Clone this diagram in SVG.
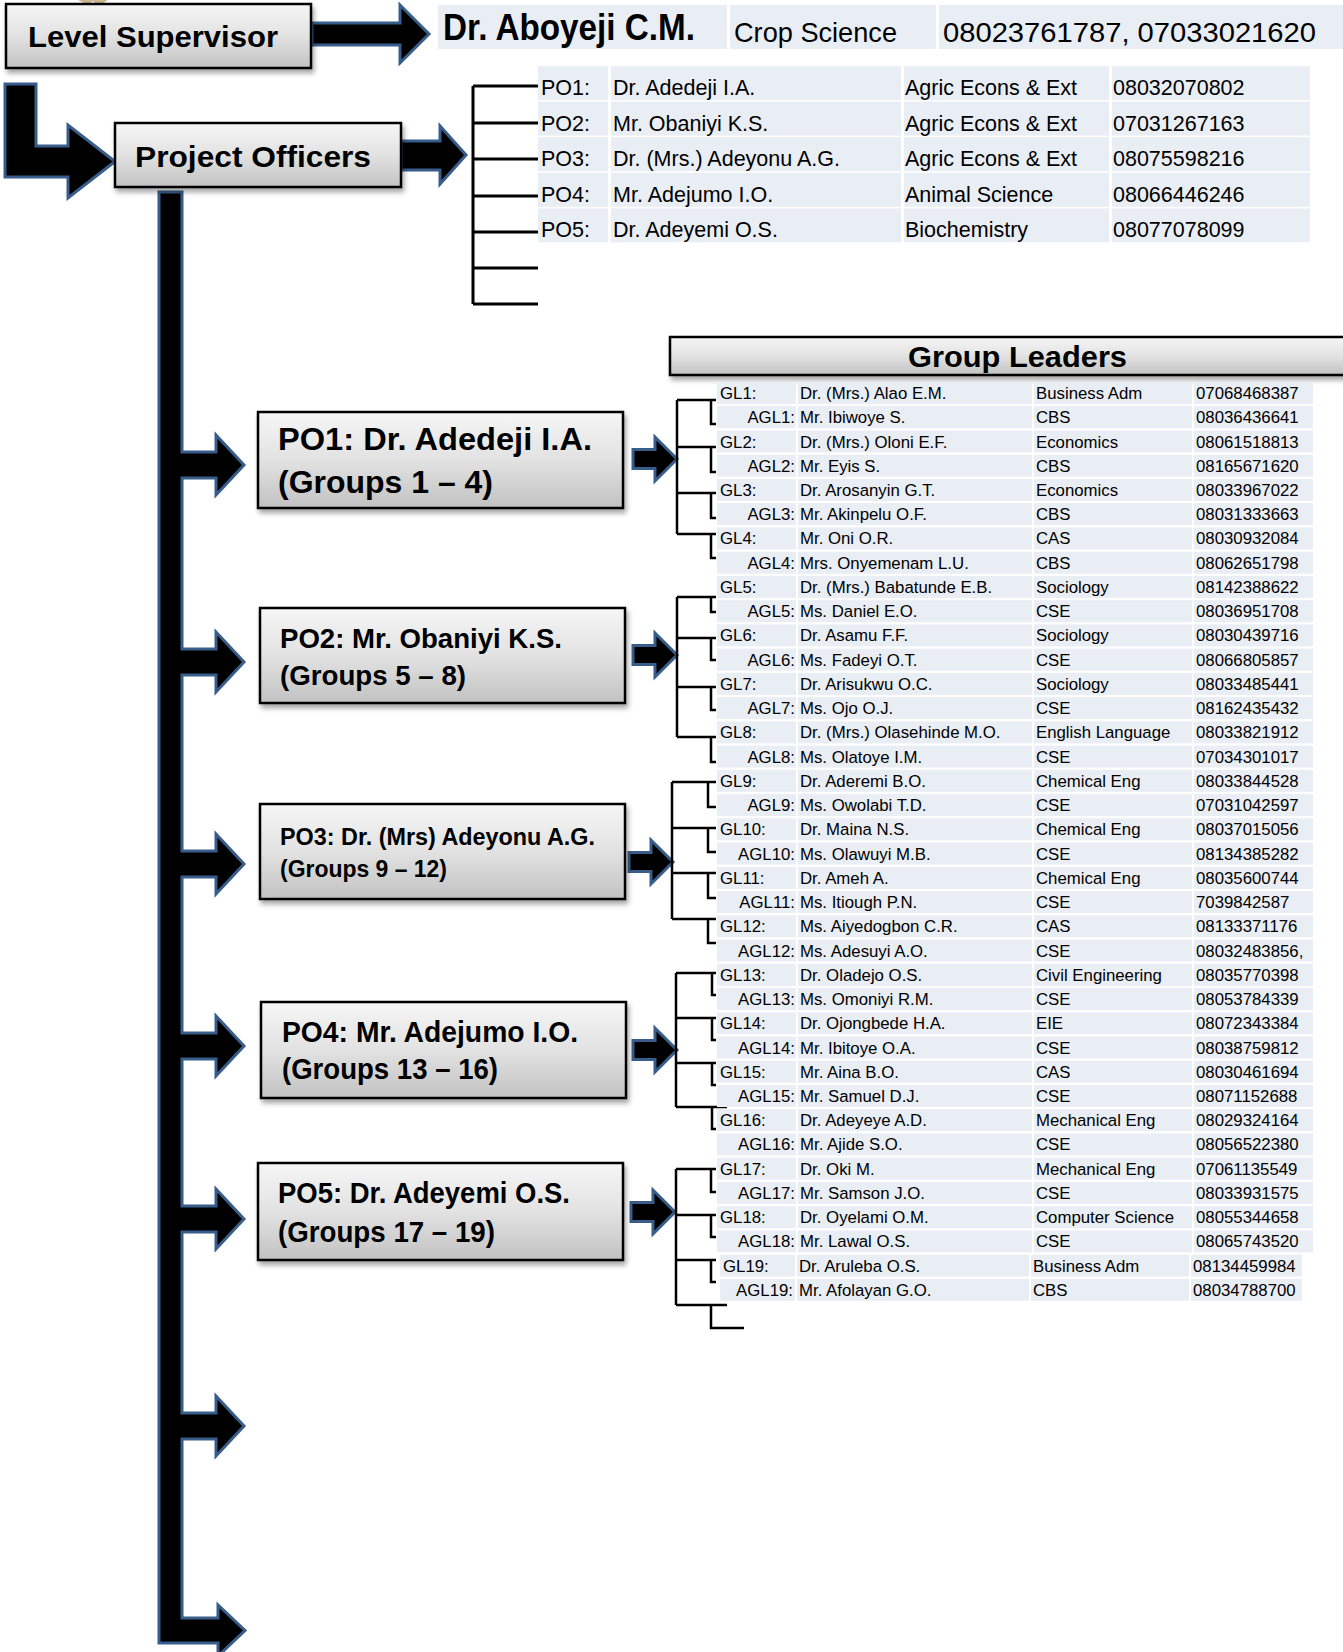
<svg xmlns="http://www.w3.org/2000/svg" xmlns:xlink="http://www.w3.org/1999/xlink" width="1343" height="1652" viewBox="0 0 1343 1652">
<style>
.box{fill:url(#gr);stroke:#000;stroke-width:2.5;filter:url(#sh)}
.arr{fill:#000;stroke:#385d8a;stroke-width:3;stroke-linejoin:miter}
.br{fill:none;stroke:#000;stroke-width:2.5}
.brt{fill:none;stroke:#000;stroke-width:3}
.c{fill:#e9edf4}
text{font-family:"Liberation Sans",Arial,sans-serif;fill:#000}
.b{font-weight:bold}
.t{font-size:21.5px}
.s{font-size:16.8px}
.e{text-anchor:end}
</style>
<defs>
<linearGradient id="gr" x1="0" y1="0" x2="0" y2="1">
<stop offset="0" stop-color="#f6f6f6"/>
<stop offset="0.5" stop-color="#e2e2e2"/>
<stop offset="1" stop-color="#c2c2c2"/>
</linearGradient>
<filter id="sh" x="-10%" y="-10%" width="130%" height="140%">
<feDropShadow dx="2" dy="4" stdDeviation="2.5" flood-color="#000" flood-opacity="0.35"/>
</filter>
<g id="rbg">
<rect class="c" x="717" y="0" width="79" height="22"/>
<rect class="c" x="798" y="0" width="234" height="22"/>
<rect class="c" x="1034" y="0" width="158" height="22"/>
<rect class="c" x="1194" y="0" width="119" height="22"/>
</g>
<g id="rbg2">
<rect class="c" x="720" y="0" width="75" height="22"/>
<rect class="c" x="797" y="0" width="232" height="22"/>
<rect class="c" x="1031" y="0" width="158" height="22"/>
<rect class="c" x="1191" y="0" width="111" height="22"/>
</g>
<g id="pbg">
<rect class="c" x="538" y="0" width="70" height="34"/>
<rect class="c" x="611" y="0" width="290" height="34"/>
<rect class="c" x="904" y="0" width="205" height="34"/>
<rect class="c" x="1112" y="0" width="198" height="34"/>
</g>
</defs>

<rect width="1343" height="1652" fill="#fff"/>
<path d="M78,0 L88,5 L93,1 L99,8 L103,3 L108,0 Z" fill="#cbb68f"/>

<g id="connectors">
<path class="arr" d="M312,23 H400 V5 L429,34 L400,63 V45 H312 Z"/>
<path class="arr" d="M5,84 H36 V146 H68 V125 L115,161.5 L68,198 V177 H5 Z"/>
<path class="arr" d="M401,141 H440 V126 L466,155 L440,184 V170 H401 Z"/>
<path class="arr" d="M159,192 H182 V452 H216 V435 L244,465 L216,495 V478 H182 V649 H216 V632 L244,662 L216,692 V675 H182 V851 H216 V834 L244,864 L216,894 V877 H182 V1033 H216 V1016 L244,1046 L216,1076 V1059 H182 V1206 H216 V1189 L244,1219 L216,1249 V1232 H182 V1413 H216 V1396 L244,1426 L216,1456 V1439 H182 V1618 H218 V1605 L245,1630.5 L218,1656 V1643 H159 Z"/>
<path class="arr" d="M633,449.5 H655 V437 L677,459 L655,481 V468.5 H633 Z"/>
<path class="arr" d="M633,645.5 H655 V633 L677,655 L655,677 V664.5 H633 Z"/>
<path class="arr" d="M629,852.5 H651 V840 L673,862 L651,884 V871.5 H629 Z"/>
<path class="arr" d="M633,1040.5 H655 V1028 L677,1050 L655,1072 V1059.5 H633 Z"/>
<path class="arr" d="M631,1202.5 H653 V1190 L675,1212 L653,1234 V1221.5 H631 Z"/>
<path class="brt" d="M473,86 V304 M473,86 H538 M473,123 H538 M473,159 H538 M473,196 H538 M473,232 H538 M473,268 H538 M473,304 H538"/>
<path class="br" d="M677,400 V534 M677,400 H716 M677,447 H716 M677,493 H716 M677,534 H716 M711,400 V424 H716 M711,447 V472 H716 M711,493 V518 H716 M711,534 V558 H716"/>
<path class="br" d="M677,597 V737 M677,597 H716 M677,638 H716 M677,687 H716 M677,737 H716 M711,597 V612 H716 M711,638 V660 H716 M711,687 V710 H716 M711,737 V762 H716"/>
<path class="br" d="M672,782 V919 M672,782 H716 M672,828 H716 M672,873 H716 M672,919 H716 M708,782 V807 H716 M708,828 V852 H716 M708,873 V898 H716 M708,919 V943 H716"/>
<path class="br" d="M676,973 V1107 M676,973 H716 M676,1018 H716 M676,1063 H716 M676,1107 H727 M712,973 V995 H716 M712,1018 V1040 H716 M712,1063 V1085 H716 M712,1107 V1129 H716"/>
<path class="br" d="M676,1169 V1305 M676,1169 H716 M676,1215 H716 M676,1260 H716 M676,1305 H727 M711,1169 V1192 H716 M711,1215 V1237 H716 M711,1260 V1282 H716 M711,1305 V1328 H744"/>
</g>

<g id="level-supervisor">
<rect class="box" x="6" y="4" width="305" height="64"/>
<text class="b" x="28" y="47" font-size="30" textLength="250" lengthAdjust="spacingAndGlyphs">Level Supervisor</text>
</g>

<g id="supervisor-row">
<rect class="c" x="438" y="5" width="289" height="44"/>
<rect class="c" x="730" y="5" width="206" height="44"/>
<rect class="c" x="939" y="5" width="404" height="44"/>
<text class="b" x="443" y="40" font-size="36" textLength="252" lengthAdjust="spacingAndGlyphs">Dr. Aboyeji C.M.</text>
<text x="734" y="42" font-size="28" textLength="163" lengthAdjust="spacingAndGlyphs">Crop Science</text>
<text x="943" y="42" font-size="28" textLength="373" lengthAdjust="spacingAndGlyphs">08023761787, 07033021620</text>
</g>

<g id="project-officers">
<rect class="box" x="115" y="123" width="286" height="64"/>
<text class="b" x="135" y="167" font-size="30" textLength="236" lengthAdjust="spacingAndGlyphs">Project Officers</text>
</g>

<g id="po-table" class="t">
<g transform="translate(0,66)"><use href="#pbg"/><text x="541" y="29">PO1:</text><text x="613" y="29">Dr. Adedeji I.A.</text><text x="905" y="29">Agric Econs &amp; Ext</text><text x="1113" y="29">08032070802</text></g>
<g transform="translate(0,101.6)"><use href="#pbg"/><text x="541" y="29">PO2:</text><text x="613" y="29">Mr. Obaniyi K.S.</text><text x="905" y="29">Agric Econs &amp; Ext</text><text x="1113" y="29">07031267163</text></g>
<g transform="translate(0,137.2)"><use href="#pbg"/><text x="541" y="29">PO3:</text><text x="613" y="29">Dr. (Mrs.) Adeyonu A.G.</text><text x="905" y="29">Agric Econs &amp; Ext</text><text x="1113" y="29">08075598216</text></g>
<g transform="translate(0,172.8)"><use href="#pbg"/><text x="541" y="29">PO4:</text><text x="613" y="29">Mr. Adejumo I.O.</text><text x="905" y="29">Animal Science</text><text x="1113" y="29">08066446246</text></g>
<g transform="translate(0,208.4)"><use href="#pbg"/><text x="541" y="29">PO5:</text><text x="613" y="29">Dr. Adeyemi O.S.</text><text x="905" y="29">Biochemistry</text><text x="1113" y="29">08077078099</text></g>
</g>

<g id="po1">
<rect class="box" x="258" y="412" width="365" height="96"/>
<text class="b" x="278" y="450" font-size="32" textLength="314" lengthAdjust="spacingAndGlyphs">PO1: Dr. Adedeji I.A.</text>
<text class="b" x="278" y="493" font-size="32" textLength="215" lengthAdjust="spacingAndGlyphs">(Groups 1 – 4)</text>
</g>
<g id="po2">
<rect class="box" x="260" y="608" width="365" height="95"/>
<text class="b" x="280" y="648" font-size="28" textLength="282" lengthAdjust="spacingAndGlyphs">PO2: Mr. Obaniyi K.S.</text>
<text class="b" x="280" y="685" font-size="28" textLength="186" lengthAdjust="spacingAndGlyphs">(Groups 5 – 8)</text>
</g>
<g id="po3">
<rect class="box" x="260" y="804" width="365" height="95"/>
<text class="b" x="280" y="845" font-size="23.5" textLength="315" lengthAdjust="spacingAndGlyphs">PO3: Dr. (Mrs) Adeyonu A.G.</text>
<text class="b" x="280" y="877" font-size="23.5" textLength="167" lengthAdjust="spacingAndGlyphs">(Groups 9 – 12)</text>
</g>
<g id="po4">
<rect class="box" x="261" y="1002" width="365" height="96"/>
<text class="b" x="282" y="1042" font-size="29" textLength="296" lengthAdjust="spacingAndGlyphs">PO4: Mr. Adejumo I.O.</text>
<text class="b" x="282" y="1079" font-size="29" textLength="216" lengthAdjust="spacingAndGlyphs">(Groups 13 – 16)</text>
</g>
<g id="po5">
<rect class="box" x="258" y="1163" width="365" height="97"/>
<text class="b" x="278" y="1203" font-size="29" textLength="292" lengthAdjust="spacingAndGlyphs">PO5: Dr. Adeyemi O.S.</text>
<text class="b" x="278" y="1242" font-size="29" textLength="217" lengthAdjust="spacingAndGlyphs">(Groups 17 – 19)</text>
</g>

<g id="group-leaders">
<rect class="box" x="670" y="337" width="700" height="38"/>
<text class="b" x="908" y="367" font-size="30" textLength="219" lengthAdjust="spacingAndGlyphs">Group Leaders</text>
</g>

<g id="gl-table" class="s">
<g transform="translate(0,382)"><use href="#rbg"/><text x="720" y="17">GL1:</text><text x="800" y="17">Dr. (Mrs.) Alao E.M.</text><text x="1036" y="17">Business Adm</text><text x="1196" y="17">07068468387</text></g>
<g transform="translate(0,406.2)"><use href="#rbg"/><text class="e" x="795" y="17">AGL1:</text><text x="800" y="17">Mr. Ibiwoye S.</text><text x="1036" y="17">CBS</text><text x="1196" y="17">08036436641</text></g>
<g transform="translate(0,430.5)"><use href="#rbg"/><text x="720" y="17">GL2:</text><text x="800" y="17">Dr. (Mrs.) Oloni E.F.</text><text x="1036" y="17">Economics</text><text x="1196" y="17">08061518813</text></g>
<g transform="translate(0,454.7)"><use href="#rbg"/><text class="e" x="795" y="17">AGL2:</text><text x="800" y="17">Mr. Eyis S.</text><text x="1036" y="17">CBS</text><text x="1196" y="17">08165671620</text></g>
<g transform="translate(0,479)"><use href="#rbg"/><text x="720" y="17">GL3:</text><text x="800" y="17">Dr. Arosanyin G.T.</text><text x="1036" y="17">Economics</text><text x="1196" y="17">08033967022</text></g>
<g transform="translate(0,503.2)"><use href="#rbg"/><text class="e" x="795" y="17">AGL3:</text><text x="800" y="17">Mr. Akinpelu O.F.</text><text x="1036" y="17">CBS</text><text x="1196" y="17">08031333663</text></g>
<g transform="translate(0,527.4)"><use href="#rbg"/><text x="720" y="17">GL4:</text><text x="800" y="17">Mr. Oni O.R.</text><text x="1036" y="17">CAS</text><text x="1196" y="17">08030932084</text></g>
<g transform="translate(0,551.7)"><use href="#rbg"/><text class="e" x="795" y="17">AGL4:</text><text x="800" y="17">Mrs. Onyemenam L.U.</text><text x="1036" y="17">CBS</text><text x="1196" y="17">08062651798</text></g>
<g transform="translate(0,575.9)"><use href="#rbg"/><text x="720" y="17">GL5:</text><text x="800" y="17">Dr. (Mrs.) Babatunde E.B.</text><text x="1036" y="17">Sociology</text><text x="1196" y="17">08142388622</text></g>
<g transform="translate(0,600.2)"><use href="#rbg"/><text class="e" x="795" y="17">AGL5:</text><text x="800" y="17">Ms. Daniel E.O.</text><text x="1036" y="17">CSE</text><text x="1196" y="17">08036951708</text></g>
<g transform="translate(0,624.4)"><use href="#rbg"/><text x="720" y="17">GL6:</text><text x="800" y="17">Dr. Asamu F.F.</text><text x="1036" y="17">Sociology</text><text x="1196" y="17">08030439716</text></g>
<g transform="translate(0,648.6)"><use href="#rbg"/><text class="e" x="795" y="17">AGL6:</text><text x="800" y="17">Ms. Fadeyi O.T.</text><text x="1036" y="17">CSE</text><text x="1196" y="17">08066805857</text></g>
<g transform="translate(0,672.9)"><use href="#rbg"/><text x="720" y="17">GL7:</text><text x="800" y="17">Dr. Arisukwu O.C.</text><text x="1036" y="17">Sociology</text><text x="1196" y="17">08033485441</text></g>
<g transform="translate(0,697.1)"><use href="#rbg"/><text class="e" x="795" y="17">AGL7:</text><text x="800" y="17">Ms. Ojo O.J.</text><text x="1036" y="17">CSE</text><text x="1196" y="17">08162435432</text></g>
<g transform="translate(0,721.4)"><use href="#rbg"/><text x="720" y="17">GL8:</text><text x="800" y="17">Dr. (Mrs.) Olasehinde M.O.</text><text x="1036" y="17">English Language</text><text x="1196" y="17">08033821912</text></g>
<g transform="translate(0,745.6)"><use href="#rbg"/><text class="e" x="795" y="17">AGL8:</text><text x="800" y="17">Ms. Olatoye I.M.</text><text x="1036" y="17">CSE</text><text x="1196" y="17">07034301017</text></g>
<g transform="translate(0,769.8)"><use href="#rbg"/><text x="720" y="17">GL9:</text><text x="800" y="17">Dr. Aderemi B.O.</text><text x="1036" y="17">Chemical Eng</text><text x="1196" y="17">08033844528</text></g>
<g transform="translate(0,794.1)"><use href="#rbg"/><text class="e" x="795" y="17">AGL9:</text><text x="800" y="17">Ms. Owolabi T.D.</text><text x="1036" y="17">CSE</text><text x="1196" y="17">07031042597</text></g>
<g transform="translate(0,818.3)"><use href="#rbg"/><text x="720" y="17">GL10:</text><text x="800" y="17">Dr. Maina N.S.</text><text x="1036" y="17">Chemical Eng</text><text x="1196" y="17">08037015056</text></g>
<g transform="translate(0,842.6)"><use href="#rbg"/><text class="e" x="795" y="17">AGL10:</text><text x="800" y="17">Ms. Olawuyi M.B.</text><text x="1036" y="17">CSE</text><text x="1196" y="17">08134385282</text></g>
<g transform="translate(0,866.8)"><use href="#rbg"/><text x="720" y="17">GL11:</text><text x="800" y="17">Dr. Ameh A.</text><text x="1036" y="17">Chemical Eng</text><text x="1196" y="17">08035600744</text></g>
<g transform="translate(0,891)"><use href="#rbg"/><text class="e" x="795" y="17">AGL11:</text><text x="800" y="17">Ms. Itiough P.N.</text><text x="1036" y="17">CSE</text><text x="1196" y="17">7039842587</text></g>
<g transform="translate(0,915.3)"><use href="#rbg"/><text x="720" y="17">GL12:</text><text x="800" y="17">Ms. Aiyedogbon C.R.</text><text x="1036" y="17">CAS</text><text x="1196" y="17">08133371176</text></g>
<g transform="translate(0,939.5)"><use href="#rbg"/><text class="e" x="795" y="17">AGL12:</text><text x="800" y="17">Ms. Adesuyi A.O.</text><text x="1036" y="17">CSE</text><text x="1196" y="17">08032483856,</text></g>
<g transform="translate(0,963.8)"><use href="#rbg"/><text x="720" y="17">GL13:</text><text x="800" y="17">Dr. Oladejo O.S.</text><text x="1036" y="17">Civil Engineering</text><text x="1196" y="17">08035770398</text></g>
<g transform="translate(0,988)"><use href="#rbg"/><text class="e" x="795" y="17">AGL13:</text><text x="800" y="17">Ms. Omoniyi R.M.</text><text x="1036" y="17">CSE</text><text x="1196" y="17">08053784339</text></g>
<g transform="translate(0,1012.2)"><use href="#rbg"/><text x="720" y="17">GL14:</text><text x="800" y="17">Dr. Ojongbede H.A.</text><text x="1036" y="17">EIE</text><text x="1196" y="17">08072343384</text></g>
<g transform="translate(0,1036.5)"><use href="#rbg"/><text class="e" x="795" y="17">AGL14:</text><text x="800" y="17">Mr. Ibitoye O.A.</text><text x="1036" y="17">CSE</text><text x="1196" y="17">08038759812</text></g>
<g transform="translate(0,1060.7)"><use href="#rbg"/><text x="720" y="17">GL15:</text><text x="800" y="17">Mr. Aina B.O.</text><text x="1036" y="17">CAS</text><text x="1196" y="17">08030461694</text></g>
<g transform="translate(0,1085)"><use href="#rbg"/><text class="e" x="795" y="17">AGL15:</text><text x="800" y="17">Mr. Samuel D.J.</text><text x="1036" y="17">CSE</text><text x="1196" y="17">08071152688</text></g>
<g transform="translate(0,1109.2)"><use href="#rbg"/><text x="720" y="17">GL16:</text><text x="800" y="17">Dr. Adeyeye A.D.</text><text x="1036" y="17">Mechanical Eng</text><text x="1196" y="17">08029324164</text></g>
<g transform="translate(0,1133.4)"><use href="#rbg"/><text class="e" x="795" y="17">AGL16:</text><text x="800" y="17">Mr. Ajide S.O.</text><text x="1036" y="17">CSE</text><text x="1196" y="17">08056522380</text></g>
<g transform="translate(0,1157.7)"><use href="#rbg"/><text x="720" y="17">GL17:</text><text x="800" y="17">Dr. Oki M.</text><text x="1036" y="17">Mechanical Eng</text><text x="1196" y="17">07061135549</text></g>
<g transform="translate(0,1181.9)"><use href="#rbg"/><text class="e" x="795" y="17">AGL17:</text><text x="800" y="17">Mr. Samson J.O.</text><text x="1036" y="17">CSE</text><text x="1196" y="17">08033931575</text></g>
<g transform="translate(0,1206.2)"><use href="#rbg"/><text x="720" y="17">GL18:</text><text x="800" y="17">Dr. Oyelami O.M.</text><text x="1036" y="17">Computer Science</text><text x="1196" y="17">08055344658</text></g>
<g transform="translate(0,1230.4)"><use href="#rbg"/><text class="e" x="795" y="17">AGL18:</text><text x="800" y="17">Mr. Lawal O.S.</text><text x="1036" y="17">CSE</text><text x="1196" y="17">08065743520</text></g>
<g transform="translate(0,1254.6)"><use href="#rbg2"/><text x="723" y="17">GL19:</text><text x="799" y="17">Dr. Aruleba O.S.</text><text x="1033" y="17">Business Adm</text><text x="1193" y="17">08134459984</text></g>
<g transform="translate(0,1278.9)"><use href="#rbg2"/><text class="e" x="793" y="17">AGL19:</text><text x="799" y="17">Mr. Afolayan G.O.</text><text x="1033" y="17">CBS</text><text x="1193" y="17">08034788700</text></g>
</g>
</svg>
